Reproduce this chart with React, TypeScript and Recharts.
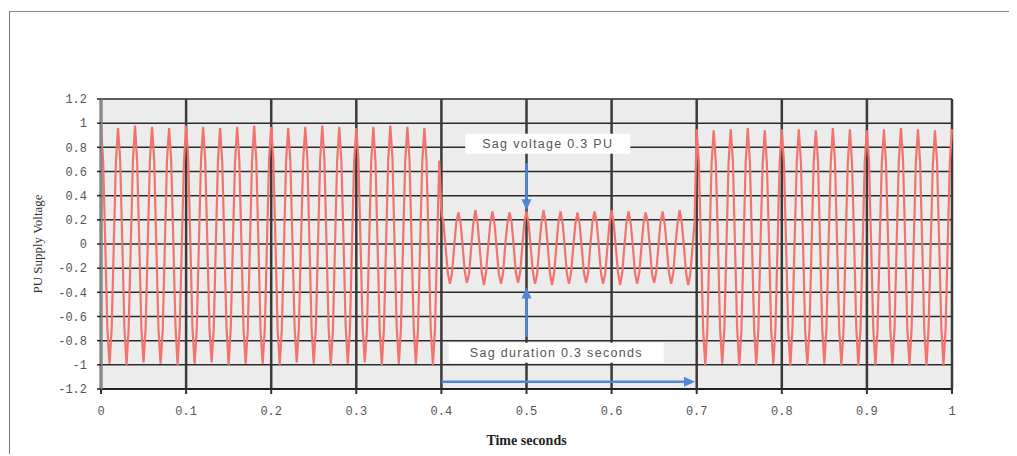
import React from "react";
import {LineChart, Line, XAxis, YAxis, CartesianGrid, ReferenceLine, ReferenceDot, Label} from "recharts";

// supply voltage samples, one every 2.5 ms (8 per 50 Hz cycle)
const SAMPLE_STEP = 0.0025

const preSag = [
    0.97, 0.69, 0.01, -0.70, -0.99, -0.71, -0.02, 0.68,
    0.96, 0.70, 0.02, -0.69, -1.00, -0.70, -0.01, 0.69,
    0.98, 0.68, 0.00, -0.71, -0.98, -0.69, 0.01, 0.70,
    0.97, 0.70, -0.01, -0.70, -0.99, -0.72, -0.02, 0.69,
    0.96, 0.69, 0.02, -0.68, -1.00, -0.70, 0.00, 0.68,
    0.98, 0.71, 0.01, -0.70, -0.99, -0.71, -0.01, 0.69,
    0.97, 0.69, 0.00, -0.71, -0.98, -0.70, 0.02, 0.70,
    0.96, 0.68, -0.02, -0.69, -1.00, -0.69, 0.01, 0.68,
    0.97, 0.70, 0.01, -0.70, -0.99, -0.71, -0.01, 0.69,
    0.98, 0.69, 0.00, -0.72, -0.99, -0.70, 0.00, 0.70,
    0.97, 0.70, 0.02, -0.70, -1.00, -0.71, -0.02, 0.69,
    0.96, 0.69, 0.01, -0.69, -0.98, -0.70, 0.01, 0.68,
    0.97, 0.71, -0.01, -0.71, -0.99, -0.69, 0.00, 0.70,
    0.98, 0.70, 0.00, -0.70, -1.00, -0.72, -0.01, 0.69,
    0.97, 0.68, 0.02, -0.68, -0.99, -0.70, 0.01, 0.69,
    0.96, 0.70, 0.01, -0.70, -0.98, -0.71, -0.02, 0.68,
    0.97, 0.69, 0.00, -0.71, -1.00, -0.70, 0.00, 0.70,
    0.98, 0.71, -0.01, -0.69, -0.99, -0.69, 0.01, 0.69,
    0.97, 0.70, 0.02, -0.70, -0.99, -0.71, -0.01, 0.68,
    0.96, 0.69, 0.00, -0.71, -1.00, -0.70, 0.01, 0.69,
]

const sag = [
    0.27, 0.17, -0.03, -0.24, -0.33, -0.24, -0.02, 0.18,
    0.26, 0.18, -0.02, -0.23, -0.32, -0.25, -0.03, 0.17,
    0.28, 0.17, -0.03, -0.24, -0.34, -0.23, -0.02, 0.18,
    0.27, 0.16, -0.04, -0.25, -0.33, -0.24, -0.01, 0.17,
    0.26, 0.18, -0.02, -0.24, -0.32, -0.24, -0.03, 0.18,
    0.27, 0.17, -0.03, -0.23, -0.33, -0.25, -0.02, 0.17,
    0.28, 0.18, -0.02, -0.24, -0.34, -0.24, -0.03, 0.18,
    0.27, 0.17, -0.03, -0.25, -0.33, -0.23, -0.02, 0.17,
    0.26, 0.16, -0.04, -0.24, -0.32, -0.24, -0.01, 0.18,
    0.27, 0.18, -0.02, -0.24, -0.33, -0.25, -0.03, 0.17,
    0.28, 0.17, -0.03, -0.23, -0.34, -0.24, -0.02, 0.18,
    0.27, 0.17, -0.02, -0.24, -0.33, -0.24, -0.03, 0.17,
    0.26, 0.18, -0.03, -0.25, -0.32, -0.23, -0.02, 0.18,
    0.27, 0.16, -0.04, -0.24, -0.33, -0.24, -0.01, 0.17,
    0.28, 0.17, -0.02, -0.24, -0.34, -0.25, -0.03, 0.18,
]

const postSag = [
    0.95, 0.68, 0.00, -0.70, -1.00, -0.71, -0.01, 0.67,
    0.94, 0.67, 0.01, -0.71, -0.99, -0.70, 0.00, 0.68,
    0.95, 0.69, -0.01, -0.69, -1.01, -0.72, -0.02, 0.67,
    0.96, 0.68, 0.00, -0.70, -1.00, -0.70, 0.01, 0.66,
    0.94, 0.66, 0.02, -0.71, -0.99, -0.71, -0.01, 0.68,
    0.95, 0.68, 0.00, -0.70, -1.01, -0.70, 0.00, 0.67,
    0.95, 0.67, -0.01, -0.72, -1.00, -0.71, -0.02, 0.68,
    0.94, 0.69, 0.01, -0.70, -0.99, -0.69, 0.01, 0.67,
    0.96, 0.68, 0.00, -0.71, -1.00, -0.72, 0.00, 0.66,
    0.95, 0.67, 0.02, -0.69, -1.01, -0.70, -0.01, 0.68,
    0.94, 0.68, -0.01, -0.70, -1.00, -0.71, 0.00, 0.67,
    0.95, 0.66, 0.00, -0.71, -0.99, -0.70, 0.01, 0.68,
    0.96, 0.69, 0.01, -0.70, -1.00, -0.71, -0.02, 0.67,
    0.95, 0.68, 0.00, -0.72, -1.01, -0.69, 0.00, 0.66,
    0.94, 0.67, -0.01, -0.70, -1.00, -0.70, 0.01, 0.68,
    0.95,
]

const timeTicks = [0, 0.1, 0.2, 0.3, 0.4, 0.5, 0.6, 0.7, 0.8, 0.9, 1]
const voltTicks = [-1.2, -1, -0.8, -0.6, -0.4, -0.2, 0, 0.2, 0.4, 0.6, 0.8, 1, 1.2]

const sagVoltageNote = {x: 0.525, y: 0.83, text: "Sag voltage 0.3 PU"}
const sagDurationNote = {x: 0.535, y: -0.9, text: "Sag duration 0.3 seconds"}
const sagStart = 0.4
const sagEnd = 0.7

const data = [...preSag, ...sag, ...postSag].map((v, i) => ({
    t: Number((i * SAMPLE_STEP).toFixed(4)),
    v,
}))

const fmt = (v: number) => String(Number(v.toFixed(1)))

const Arrow = (props: any) => {
    const {x1, y1, x2, y2} = props
    const ang = Math.atan2(y2 - y1, x2 - x1)
    const len = 11, half = 5
    const bx = x2 - len * Math.cos(ang), by = y2 - len * Math.sin(ang)
    const px = -Math.sin(ang) * half, py = Math.cos(ang) * half
    return <g>
        <line x1={x1} y1={y1} x2={bx} y2={by} stroke="#5286d8" strokeWidth={2.5}/>
        <polygon points={`${x2},${y2} ${bx + px},${by + py} ${bx - px},${by - py}`} fill="#5286d8"/>
    </g>
}

const NoteBox = (w: number, text: string) => (props: any) => {
    const {cx, cy} = props
    return <g>
        <rect x={cx - w / 2} y={cy - 10} width={w} height={20} fill="#ffffff"/>
        <text x={cx} y={cy} textAnchor="middle" dominantBaseline="central" fontSize={12.5}
              letterSpacing={1.3} fontFamily="Liberation Sans" fill="#555">{text}</text>
    </g>
}

const tickStyle = {fontSize: 12, fontFamily: "Liberation Mono", fill: "#555"}

export default function App() {
    return <div style={{position: "relative", width: 1007, height: 446}}>
        <div style={{
            position: "absolute", left: 1, top: 3, width: 1006, height: 442,
            borderLeft: "1.5px solid #777", borderTop: "1.5px solid #888", borderBottom: "1.5px solid #555",
        }}/>
        <LineChart
            width={1007}
            height={446}
            data={data}
            margin={{top: 91, right: 63, bottom: 9, left: 0}}
            style={{position: "absolute", left: 0, top: 0}}
        >
            <CartesianGrid vertical={false} stroke="#2a2a2a" strokeWidth={1.5} fill="#ececec"/>
            <CartesianGrid horizontal={false} stroke="#3a3a3a" strokeWidth={2.5}/>
            <XAxis type="number" dataKey="t" domain={[0, 1]} ticks={timeTicks} interval={0}
                   tickFormatter={fmt} height={56} tickSize={5} tickMargin={12}
                   stroke="#222" strokeWidth={2} tick={tickStyle} tickLine={{stroke: "#333", strokeWidth: 2}}>
                <Label position="insideBottom" offset={0} value="Time seconds"
                       style={{fontSize: 14, fontFamily: "Liberation Serif", fontWeight: "bold", fill: "#222"}}/>
            </XAxis>
            <YAxis type="number" domain={[-1.2, 1.2]} ticks={voltTicks} interval={0}
                   tickFormatter={fmt} width={93} tickSize={4} tickMargin={10}
                   stroke="#888" strokeWidth={3} tick={tickStyle} tickLine={{stroke: "#222", strokeWidth: 1.5}}>
                <Label content={(p: any) => {
                    const vb = p.viewBox
                    const cx = vb.x + 29, cy = vb.y + vb.height / 2
                    return <text x={cx} y={cy} transform={`rotate(-90 ${cx} ${cy})`} textAnchor="middle"
                                 dominantBaseline="central" fontSize={13} fontFamily="Liberation Serif"
                                 fill="#333">PU Supply Voltage</text>
                }}/>
            </YAxis>
            <Line type="linear" dataKey="v" stroke="#f2726d" strokeWidth={2.2} dot={false}
                  isAnimationActive={false}/>
            <ReferenceLine segment={[{x: 0.5, y: 0.67}, {x: 0.5, y: 0.28}]} shape={Arrow} ifOverflow="visible"/>
            <ReferenceLine segment={[{x: 0.5, y: -0.77}, {x: 0.5, y: -0.36}]} shape={Arrow} ifOverflow="visible"/>
            <ReferenceLine segment={[{x: sagStart, y: -1.14}, {x: sagEnd - 0.002, y: -1.14}]} shape={Arrow}
                           ifOverflow="visible"/>
            <ReferenceDot x={sagVoltageNote.x} y={sagVoltageNote.y} ifOverflow="visible"
                          shape={NoteBox(165, sagVoltageNote.text)}/>
            <ReferenceDot x={sagDurationNote.x} y={sagDurationNote.y} ifOverflow="visible"
                          shape={NoteBox(215, sagDurationNote.text)}/>
        </LineChart>
    </div>
}
